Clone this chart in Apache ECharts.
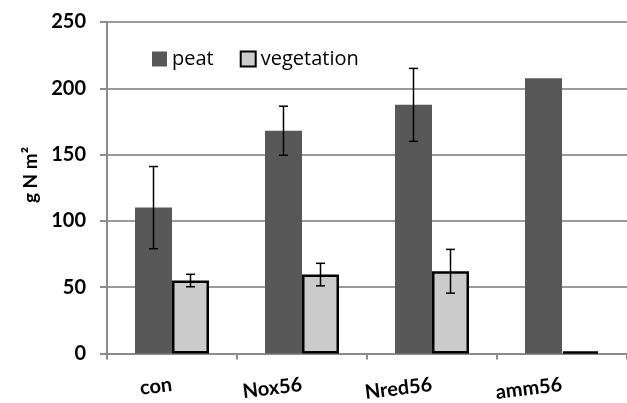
<!DOCTYPE html>
<html>
<head>
<meta charset="utf-8">
<script src="https://cdn.jsdelivr.net/npm/echarts@6/dist/echarts.min.js"></script>
<style>
  html, body { margin: 0; padding: 0; background: #fff; }
  #chart { width: 627px; height: 403px; }
</style>
</head>
<body>
<div id="chart"></div>
<script>
// Treatments along the x axis
const categories = ['con', 'Nox56', 'Nred56', 'amm56'];
// Nitrogen pools (g N m-2) and their standard errors
const peat = [110, 168, 187.5, 207.5];
const peatErr = [31, 18.5, 27.5, 0];
const vegetation = [55, 59.5, 62, 1.5];
const vegetationErr = [4.7, 8.5, 16.5, 0];
const yTicks = [0, 50, 100, 150, 200, 250];

const BAR_W = 37;
const FONT = 'Lato, "Open Sans", sans-serif';

// Error whiskers drawn centred on each bar
function errorSeries(values, errs, offset) {
  return {
    type: 'custom',
    silent: true,
    z: 10,
    data: values.map((v, i) => [i, v - errs[i], v + errs[i], errs[i]]),
    renderItem: function (params, api) {
      if (api.value(3) <= 0) return null;
      const lo = api.coord([api.value(0), api.value(1)]);
      const hi = api.coord([api.value(0), api.value(2)]);
      const x = lo[0] + offset;
      const cap = 4.5;
      const style = { stroke: '#000', lineWidth: 1.5 };
      return {
        type: 'group',
        children: [
          { type: 'line', shape: { x1: x, y1: lo[1], x2: x, y2: hi[1] }, style },
          { type: 'line', shape: { x1: x - cap, y1: lo[1], x2: x + cap, y2: lo[1] }, style },
          { type: 'line', shape: { x1: x - cap, y1: hi[1], x2: x + cap, y2: hi[1] }, style }
        ]
      };
    }
  };
}

const chart = echarts.init(document.getElementById('chart'));
chart.setOption({
  animation: false,
  backgroundColor: '#fff',
  grid: { left: 107, right: 0, top: 22, bottom: 49 },
  legend: {
    left: 147,
    top: 44,
    itemWidth: 15,
    itemHeight: 15,
    itemGap: 26,
    textStyle: { fontFamily: '"Open Sans", sans-serif', fontSize: 20, color: '#000' },
    data: [
      { name: 'peat', icon: 'rect' },
      { name: 'vegetation', icon: 'rect' }
    ]
  },
  graphic: [
    {
      type: 'text',
      x: 31,
      y: 175,
      rotation: Math.PI / 2,
      style: {
        text: 'g N m\u00b2',
        fontFamily: FONT,
        fontWeight: 'bold',
        fontSize: 19,
        fill: '#000',
        align: 'center',
        verticalAlign: 'middle'
      }
    }
  ],
  xAxis: {
    type: 'category',
    data: categories,
    axisLine: { lineStyle: { color: '#8c8c8c', width: 2 } },
    axisTick: { show: true, length: 6, interval: 0, lineStyle: { color: '#8c8c8c', width: 2 } },
    axisLabel: {
      margin: 31,
      rotate: 7,
      fontFamily: FONT,
      fontWeight: 'bold',
      fontSize: 20,
      color: '#000'
    }
  },
  yAxis: {
    type: 'value',
    min: yTicks[0],
    max: yTicks[yTicks.length - 1],
    interval: 50,
    axisLine: { show: true, lineStyle: { color: '#8c8c8c', width: 2 } },
    axisTick: { show: true, length: 7, inside: false, lineStyle: { color: '#8c8c8c', width: 2 } },
    axisLabel: {
      margin: 21,
      fontFamily: FONT,
      fontWeight: 'bold',
      fontSize: 20,
      color: '#000'
    },
    splitLine: { lineStyle: { color: '#9a9a9a', width: 2 } }
  },
  series: [
    {
      name: 'peat',
      type: 'bar',
      data: peat,
      barWidth: BAR_W,
      barGap: '0%',
      itemStyle: { color: '#585858', borderColor: '#585858', borderWidth: 0 }
    },
    {
      name: 'vegetation',
      type: 'bar',
      data: vegetation,
      barWidth: BAR_W,
      barGap: '0%',
      itemStyle: { color: '#cbcbcb', borderColor: '#000', borderWidth: 2.5 }
    },
    errorSeries(peat, peatErr, -BAR_W / 2),
    errorSeries(vegetation, vegetationErr, BAR_W / 2)
  ]
});
</script>
</body>
</html>
